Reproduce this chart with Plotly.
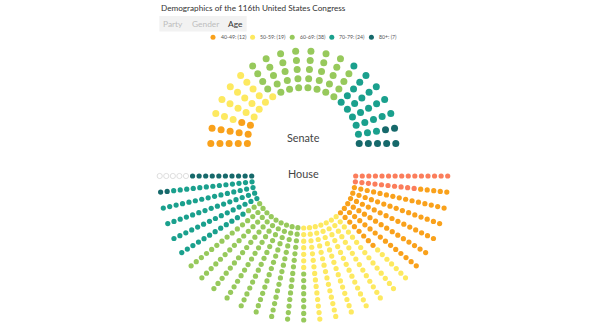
import numpy as np
import plotly.graph_objects as go

# ---------------- data ----------------
age_groups = ["Under 40", "40-49", "50-59", "60-69", "70-79", "80+"]
senate_counts = [0, 12, 19, 38, 24, 7]
house_counts = [25, 88, 104, 131, 70, 12]
house_vacant = 5
group_colors = ["#fb7d5b", "#f9a11b", "#fde960", "#97c95c", "#1aa08d", "#16696b"]
menu_labels = ["Party", "Gender", "Age"]
active_menu = "Age"
title_text = "Demographics of the 116th United States Congress"

W, H = 604, 332
FONT = "Lato, 'Open Sans', sans-serif"


def seat_positions(n_spokes, n_rows, cx, cy, r0, r1, a_start, a_end):
    """Spoke layout: spokes ordered from a_start to a_end (deg), inner -> outer."""
    xs, ys = [], []
    angs = np.linspace(a_start, a_end, n_spokes)
    radii = np.linspace(r0, r1, n_rows)
    for a in angs:
        t = np.deg2rad(a)
        for r in radii:
            xs.append(cx + r * np.cos(t))
            ys.append(cy - r * np.sin(t))
    return np.array(xs), np.array(ys)


fig = go.Figure()

# Senate: 20 spokes x 5 seats, left -> right over the top
sx, sy = seat_positions(20, 5, 303.3, 143.5, 55.9, 92.5, 180, 0)
i = 0
for g, n, c in zip(age_groups, senate_counts, group_colors):
    if n == 0:
        continue
    fig.add_trace(go.Scatter(
        x=sx[i:i + n], y=sy[i:i + n], mode="markers", name=f"{g}: ({n})",
        marker=dict(size=7, color=c, line=dict(width=0)),
        showlegend=False, hoverinfo="name"))
    i += n

# House: 29 spokes x 15 seats, right -> left under the bottom
hx, hy = seat_positions(29, 15, 303.7, 176.0, 52.0, 144.0, 0, -180)
i = 0
for g, n, c in zip(age_groups, house_counts, group_colors):
    fig.add_trace(go.Scatter(
        x=hx[i:i + n], y=hy[i:i + n], mode="markers", name=f"House {g}",
        marker=dict(size=5.2, color=c, line=dict(width=0)),
        showlegend=False, hoverinfo="name"))
    i += n
fig.add_trace(go.Scatter(
    x=hx[i:i + house_vacant], y=hy[i:i + house_vacant], mode="markers",
    name="Vacant", marker=dict(size=5.2, color="white",
                               line=dict(width=0.8, color="#d6d6d6")),
    showlegend=False, hoverinfo="name"))

# custom compact legend (senate counts)
leg_groups = [(g, n, c) for g, n, c in zip(age_groups, senate_counts, group_colors) if n > 0]
leg_x0, leg_dx, leg_y = 213.0, 39.6, 37.3
fig.add_trace(go.Scatter(
    x=[leg_x0 + k * leg_dx for k in range(len(leg_groups))],
    y=[leg_y] * len(leg_groups), mode="markers",
    marker=dict(size=5, color=[c for _, _, c in leg_groups], line=dict(width=0)),
    showlegend=False, hoverinfo="skip"))

annotations = []
for k, (g, n, c) in enumerate(leg_groups):
    annotations.append(dict(
        x=leg_x0 + k * leg_dx + 5.5, y=leg_y, text=f"{g}: ({n})", showarrow=False,
        xanchor="left", yanchor="middle", font=dict(size=5.2, color="#555")))

annotations.append(dict(x=158.5, y=7.5, text=title_text, showarrow=False,
                        xanchor="left", yanchor="middle",
                        font=dict(size=8.2, color="#333")))

# menu (button bar)
menu_x = [173, 205, 235]
for lab, mx in zip(menu_labels, menu_x):
    annotations.append(dict(
        x=mx, y=23.8, text=lab, showarrow=False, xanchor="center", yanchor="middle",
        font=dict(size=8.4, color="#333" if lab == active_menu else "#bdbdbd")))

annotations.append(dict(x=303.3, y=137, text="Senate", showarrow=False,
                        font=dict(size=10.8, color="#444")))
annotations.append(dict(x=303.5, y=173, text="House", showarrow=False,
                        font=dict(size=10.8, color="#444")))

shapes = [dict(type="rect", xref="x", yref="y", x0=159.3, x1=246.7, y0=16, y1=31.5,
               fillcolor="#f2f2f2", line=dict(width=0), layer="below")]

fig.update_layout(
    width=W, height=H, margin=dict(l=0, r=0, t=0, b=0),
    paper_bgcolor="white", plot_bgcolor="white",
    font=dict(family=FONT),
    xaxis=dict(range=[0, W], visible=False, fixedrange=True),
    yaxis=dict(range=[H, 0], visible=False, fixedrange=True),
    annotations=annotations, shapes=shapes, showlegend=False,
)

fig.write_html("out.html")
